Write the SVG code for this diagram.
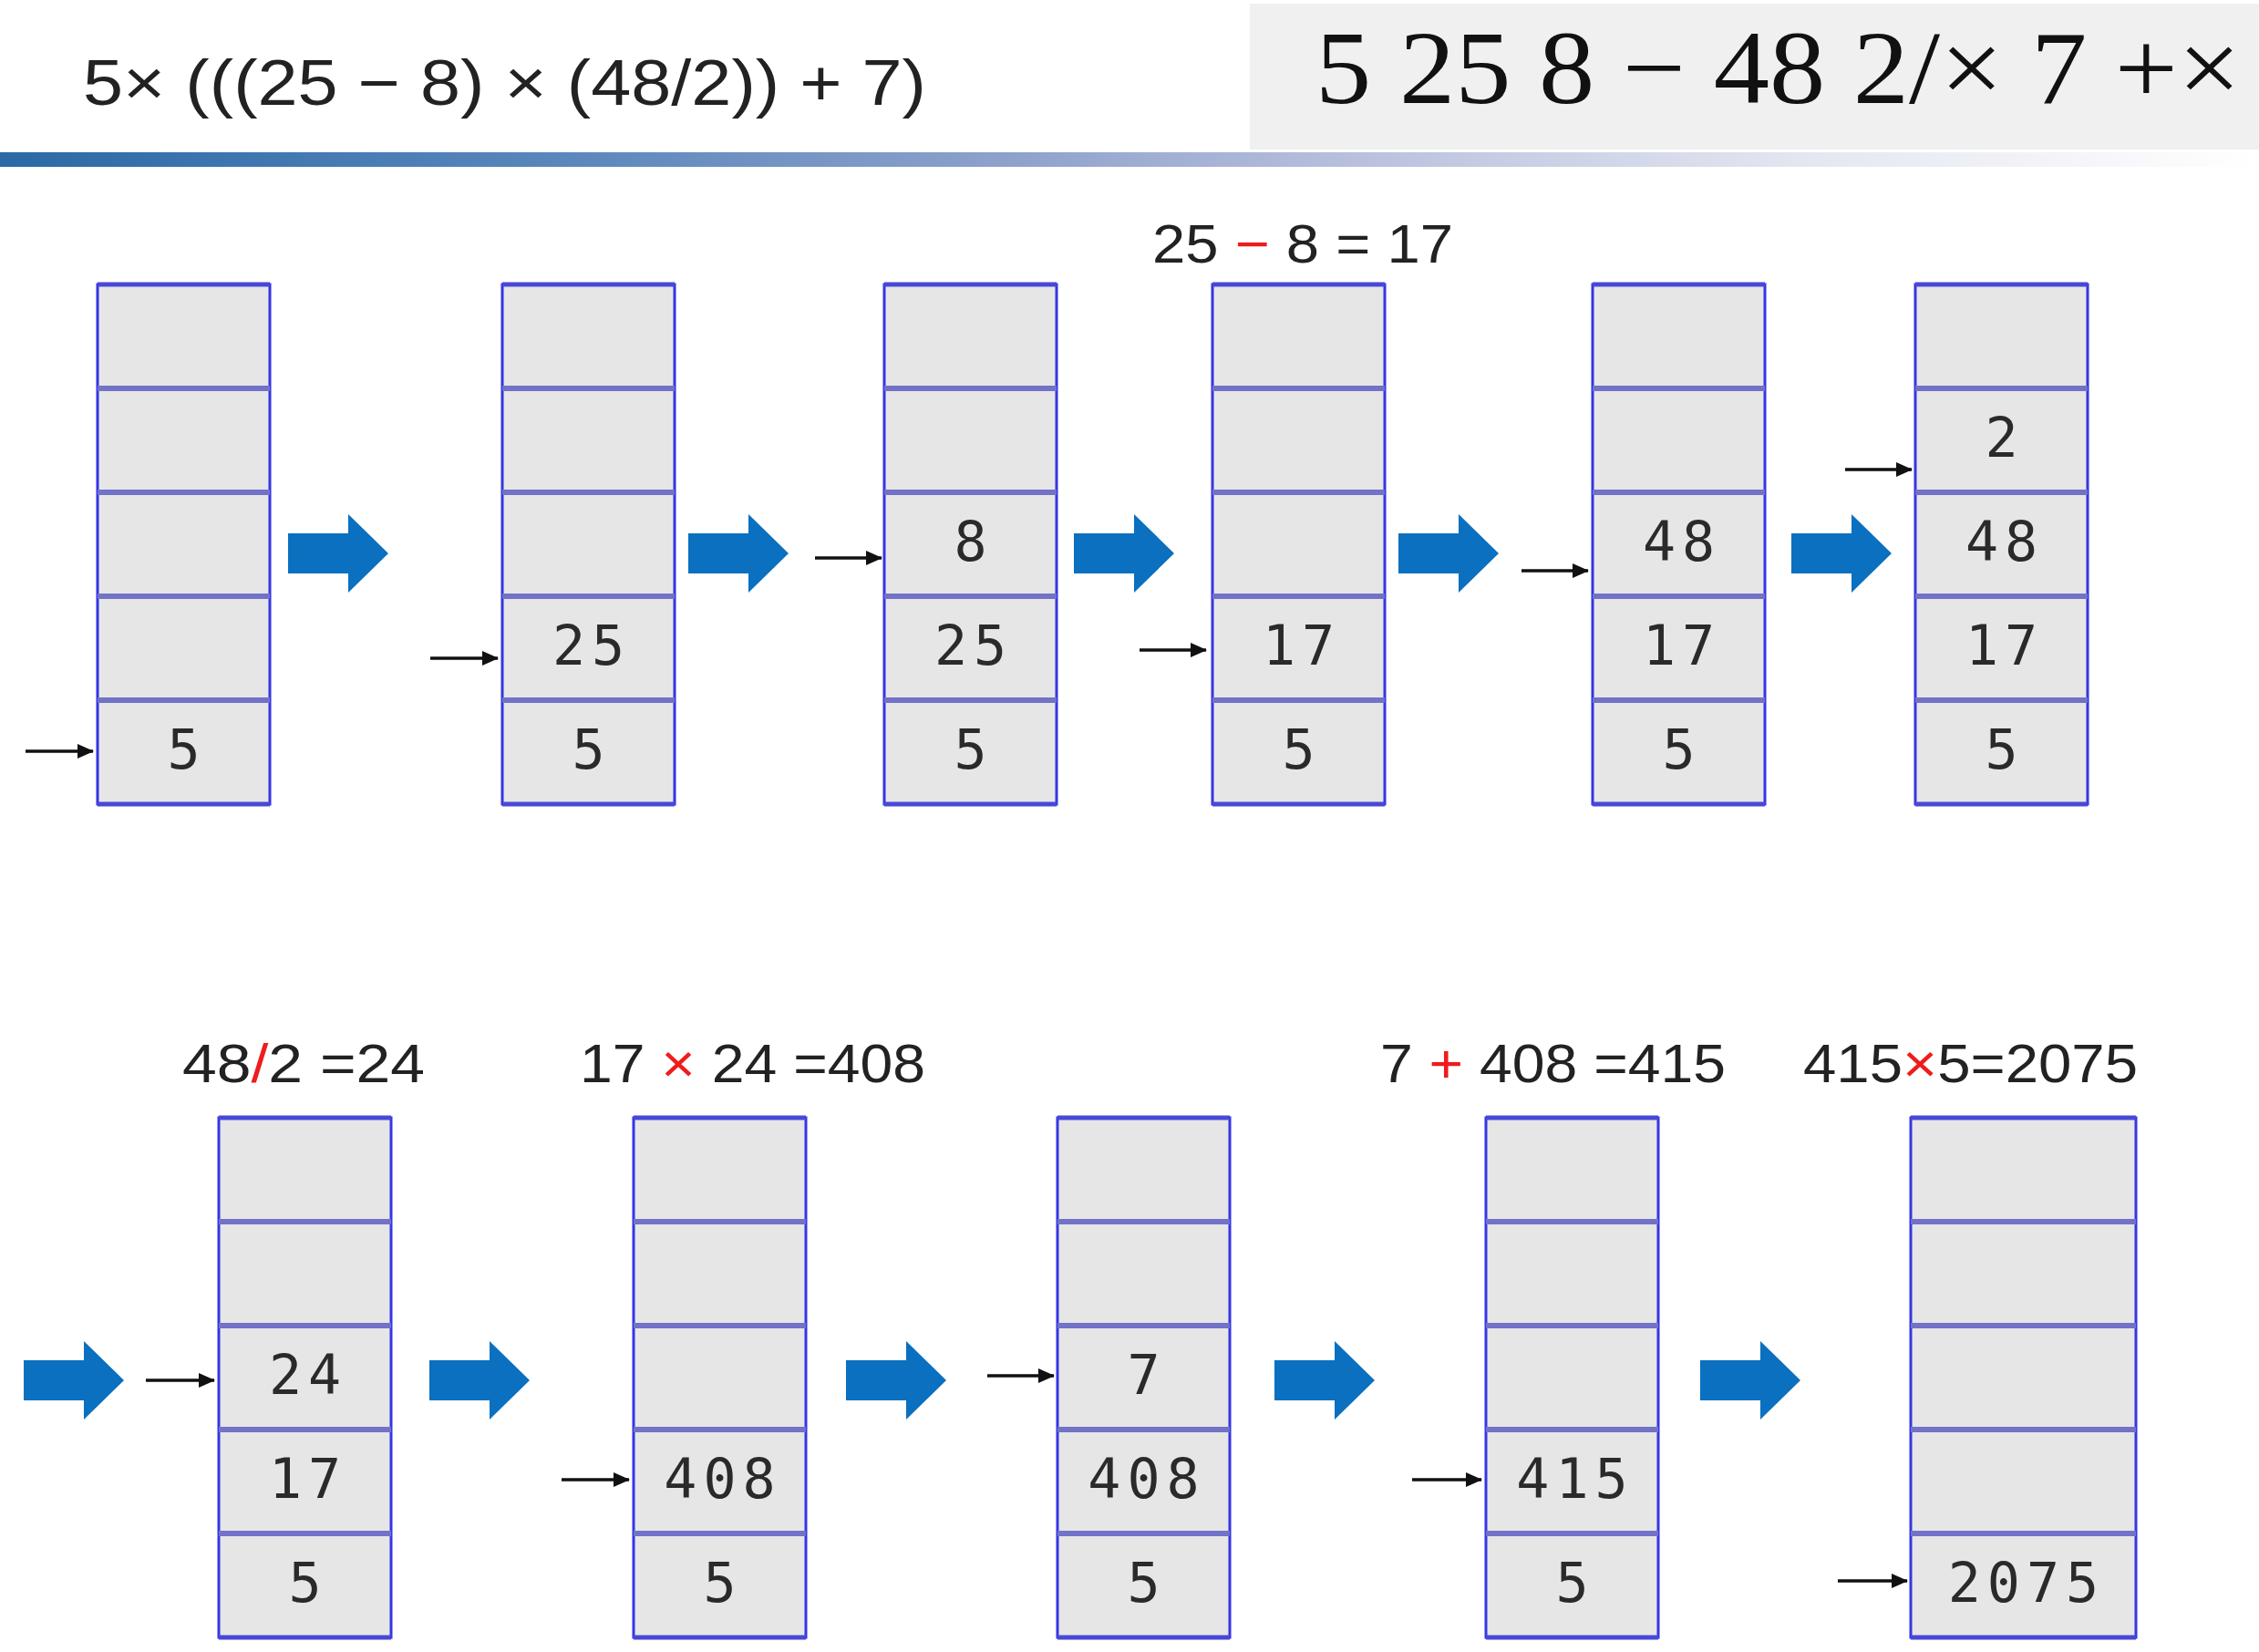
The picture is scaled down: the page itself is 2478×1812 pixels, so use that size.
<svg xmlns="http://www.w3.org/2000/svg" xmlns:xlink="http://www.w3.org/1999/xlink" width="2478" height="1812" viewBox="0 0 2478 1812">
<defs>
<style>
.cell{fill:#e6e6e6;stroke:#3535e6;stroke-width:3}
.edge{stroke:#4848d8;stroke-width:5}
.div{stroke:#7272c8;stroke-width:6}
.val{font-family:"DejaVu Sans Mono",monospace;font-size:60px;fill:#2a2a2a;text-anchor:middle;letter-spacing:7px}
.lbl{font-family:"Liberation Sans",Arial,sans-serif;font-size:60px;fill:#222}
.red{fill:#ee1c1c}
.ptr{stroke:#111;stroke-width:3.5;fill:none}
.big{fill:#0A70BF}
</style>
<linearGradient id="rule" x1="0" y1="0" x2="1" y2="0">
<stop offset="0" stop-color="#2a69a6"/>
<stop offset="0.25" stop-color="#5a87bc"/>
<stop offset="0.45" stop-color="#8fa2cc"/>
<stop offset="0.6" stop-color="#b8c0dd"/>
<stop offset="0.8" stop-color="#e4e7f1"/>
<stop offset="1" stop-color="#ffffff"/>
</linearGradient>
<marker id="ah" markerUnits="userSpaceOnUse" markerWidth="18" markerHeight="16" refX="17" refY="8" orient="auto">
<path d="M0,0 L18,8 L0,16 z" fill="#111"/>
</marker>
<path id="bigArrow" d="M0,-22 h66 v-21 l44,43 l-44,43 v-21 h-66 z"/>
<g id="stk">
<rect class="cell" x="0" y="0" width="189" height="570"/>
<line class="edge" x1="0" y1="0" x2="189" y2="0"/>
<line class="edge" x1="0" y1="570" x2="189" y2="570"/>
<line class="div" x1="0" y1="114" x2="189" y2="114"/>
<line class="div" x1="0" y1="228" x2="189" y2="228"/>
<line class="div" x1="0" y1="342" x2="189" y2="342"/>
<line class="div" x1="0" y1="456" x2="189" y2="456"/>
</g>
<g id="stkw">
<rect class="cell" x="0" y="0" width="247" height="570"/>
<line class="edge" x1="0" y1="0" x2="247" y2="0"/>
<line class="edge" x1="0" y1="570" x2="247" y2="570"/>
<line class="div" x1="0" y1="114" x2="247" y2="114"/>
<line class="div" x1="0" y1="228" x2="247" y2="228"/>
<line class="div" x1="0" y1="342" x2="247" y2="342"/>
<line class="div" x1="0" y1="456" x2="247" y2="456"/>
</g>
</defs>
<rect x="0" y="0" width="2478" height="1812" fill="#ffffff"/>

<g id="header">
<rect x="1371" y="4" width="1107" height="160" fill="#f0f0f0"/>
<rect x="0" y="167" width="2478" height="16" fill="url(#rule)"/>
<text x="91" y="115" font-family="Liberation Sans, Arial, sans-serif" font-size="70" fill="#222" textLength="925" lengthAdjust="spacingAndGlyphs">5× (((25 − 8) × (48/2)) + 7)</text>
<text x="1443" y="113" font-family="Liberation Serif, Times New Roman, serif" font-size="115" fill="#111" textLength="1015" lengthAdjust="spacingAndGlyphs">5 25 8 − 48 2/× 7 +×</text>
</g>

<g id="labels">
<text class="lbl" x="1264" y="288" font-size="57" textLength="330" lengthAdjust="spacingAndGlyphs">25 <tspan class="red">−</tspan> 8 = 17</text>
<text class="lbl" x="200" y="1187" textLength="266" lengthAdjust="spacingAndGlyphs">48<tspan class="red">/</tspan>2 =24</text>
<text class="lbl" x="636" y="1187" textLength="379" lengthAdjust="spacingAndGlyphs">17 <tspan class="red">×</tspan> 24 =408</text>
<text class="lbl" x="1514" y="1187" textLength="379" lengthAdjust="spacingAndGlyphs">7 <tspan class="red">+</tspan> 408 =415</text>
<text class="lbl" x="1978" y="1187" textLength="367" lengthAdjust="spacingAndGlyphs">415<tspan class="red">×</tspan>5=2075</text>
</g>

<g id="stack1" transform="translate(107,312)"><use xlink:href="#stk"/>
<text class="val" x="98" y="531">5</text></g>
<g id="stack2" transform="translate(551,312)"><use xlink:href="#stk"/>
<text class="val" x="98" y="417">25</text><text class="val" x="98" y="531">5</text></g>
<g id="stack3" transform="translate(970,312)"><use xlink:href="#stk"/>
<text class="val" x="98" y="303">8</text><text class="val" x="98" y="417">25</text><text class="val" x="98" y="531">5</text></g>
<g id="stack4" transform="translate(1330,312)"><use xlink:href="#stk"/>
<text class="val" x="98" y="417">17</text><text class="val" x="98" y="531">5</text></g>
<g id="stack5" transform="translate(1747,312)"><use xlink:href="#stk"/>
<text class="val" x="98" y="303">48</text><text class="val" x="98" y="417">17</text><text class="val" x="98" y="531">5</text></g>
<g id="stack6" transform="translate(2101,312)"><use xlink:href="#stk"/>
<text class="val" x="98" y="189">2</text><text class="val" x="98" y="303">48</text><text class="val" x="98" y="417">17</text><text class="val" x="98" y="531">5</text></g>

<g id="stack7" transform="translate(240,1226)"><use xlink:href="#stk"/>
<text class="val" x="98" y="303">24</text><text class="val" x="98" y="417">17</text><text class="val" x="98" y="531">5</text></g>
<g id="stack8" transform="translate(695,1226)"><use xlink:href="#stk"/>
<text class="val" x="98" y="417">408</text><text class="val" x="98" y="531">5</text></g>
<g id="stack9" transform="translate(1160,1226)"><use xlink:href="#stk"/>
<text class="val" x="98" y="303">7</text><text class="val" x="98" y="417">408</text><text class="val" x="98" y="531">5</text></g>
<g id="stack10" transform="translate(1630,1226)"><use xlink:href="#stk"/>
<text class="val" x="98" y="417">415</text><text class="val" x="98" y="531">5</text></g>
<g id="stack11" transform="translate(2096,1226)"><use xlink:href="#stkw"/>
<text class="val" x="127" y="531">2075</text></g>

<g id="connectors">
<g class="big">
<use xlink:href="#bigArrow" x="316" y="607"/>
<use xlink:href="#bigArrow" x="755" y="607"/>
<use xlink:href="#bigArrow" x="1178" y="607"/>
<use xlink:href="#bigArrow" x="1534" y="607"/>
<use xlink:href="#bigArrow" x="1965" y="607"/>
<use xlink:href="#bigArrow" x="26" y="1514"/>
<use xlink:href="#bigArrow" x="471" y="1514"/>
<use xlink:href="#bigArrow" x="928" y="1514"/>
<use xlink:href="#bigArrow" x="1398" y="1514"/>
<use xlink:href="#bigArrow" x="1865" y="1514"/>
</g>
<g class="ptr" marker-end="url(#ah)">
<line x1="28" y1="824" x2="102" y2="824"/>
<line x1="472" y1="722" x2="546" y2="722"/>
<line x1="894" y1="612" x2="967" y2="612"/>
<line x1="1250" y1="713" x2="1323" y2="713"/>
<line x1="1669" y1="626" x2="1742" y2="626"/>
<line x1="2024" y1="515" x2="2097" y2="515"/>
<line x1="160" y1="1514" x2="235" y2="1514"/>
<line x1="616" y1="1623" x2="690" y2="1623"/>
<line x1="1083" y1="1509" x2="1156" y2="1509"/>
<line x1="1549" y1="1623" x2="1625" y2="1623"/>
<line x1="2016" y1="1734" x2="2092" y2="1734"/>
</g>
</g>
</svg>
